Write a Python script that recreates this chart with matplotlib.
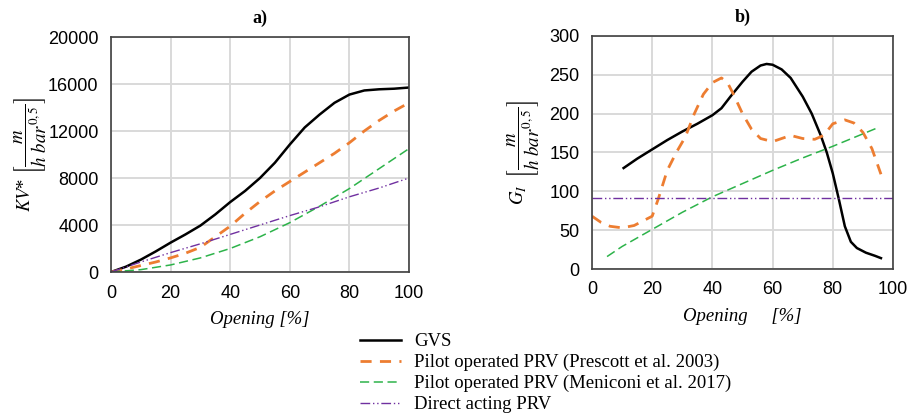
import matplotlib
matplotlib.use('Agg')
import matplotlib.pyplot as plt

plt.rcParams['font.family'] = ['Liberation Sans', 'DejaVu Sans']
plt.rcParams['mathtext.fontset'] = 'stix'

# ---- panel a) KV* vs opening
gvs_x = [0, 5, 10, 15, 20, 25, 30, 35, 40, 45, 50, 55, 60, 65, 70, 75, 80, 85, 90, 95, 100]
gvs_kv = [0, 450, 1050, 1750, 2500, 3200, 3950, 4900, 5950, 6900, 8000, 9300, 10850, 12300, 13400, 14400, 15100, 15450, 15550, 15600, 15700]

pres_x = [0, 5, 10, 15, 20, 25, 30, 35, 40, 45, 50, 55, 60, 65, 70, 75, 80, 85, 90, 95, 100]
pres_kv = [0, 250, 550, 850, 1200, 1600, 2100, 3000, 3900, 5000, 6000, 6900, 7700, 8500, 9300, 10100, 11000, 12000, 12900, 13700, 14400]

men_x = [0, 10, 20, 30, 40, 50, 60, 70, 80, 90, 100]
men_kv = [0, 200, 600, 1200, 2000, 3000, 4200, 5600, 7100, 8800, 10500]

dir_x = [0, 10, 20, 30, 40, 50, 60, 70, 80, 90, 100]
dir_kv = [0, 850, 1650, 2400, 3200, 4000, 4800, 5550, 6400, 7150, 8000]

# ---- panel b) G_I vs opening
gvs_gx = [10.5, 15, 20, 25, 30, 35, 40, 43, 46, 50, 53, 56, 58, 60, 63, 66, 70, 73, 76, 78, 80, 82, 84, 86, 88, 91, 94, 96]
gvs_g = [130, 142, 154, 166, 177, 187, 198, 207, 222, 241, 254, 262, 264, 263, 257, 246, 222, 200, 172, 150, 123, 90, 55, 35, 27, 21, 17, 14]

pres_gx = [0, 3, 6, 10, 14, 18, 20, 22, 25, 28, 31, 34, 37, 40, 43, 45, 47, 50, 53, 56, 60, 63, 66, 70, 74, 77, 80, 84, 87, 90, 93, 96]
pres_g = [68, 60, 55, 53, 56, 64, 68, 90, 127, 150, 170, 200, 225, 240, 246, 240, 225, 200, 180, 168, 164, 168, 172, 168, 167, 172, 187, 192, 188, 176, 155, 122]

men_gx = [5, 10, 20, 30, 40, 50, 60, 70, 80, 95]
men_g = [16, 29, 51, 73, 93, 110, 127, 143, 158, 182]

dir_gx = [0, 100]
dir_g = [92, 92]

orange = '#ED7D31'
green = '#2DB34A'
purple = '#7030A0'

fig = plt.figure(figsize=(9.13, 4.19), dpi=100)
ax1 = fig.add_axes([111/913, 1 - 272/419, 298/913, 235/419])
ax2 = fig.add_axes([592/913, 1 - 269/419, 301/913, 233/419])

def style(ax):
    ax.grid(True, color='#d9d9d9', linewidth=1.4)
    ax.set_axisbelow(True)
    for s in ax.spines.values():
        s.set_color('#404040')
        s.set_linewidth(1.2)
    ax.tick_params(length=0, labelsize=13, pad=9)

l1, = ax1.plot(gvs_x, gvs_kv, color='black', lw=1.8, label='GVS')
l2, = ax1.plot(pres_x, pres_kv, color=orange, lw=2, dashes=(4, 3),
               label='Pilot operated PRV (Prescott et al. 2003)')
l3, = ax1.plot(men_x, men_kv, color=green, lw=1.1, dashes=(6, 3),
               label='Pilot operated PRV (Meniconi et al. 2017)')
l4, = ax1.plot(dir_x, dir_kv, color=purple, lw=1.0, dashes=(7, 2, 1, 2, 1, 2),
               label='Direct acting PRV')
ax1.set_xlim(0, 100)
ax1.set_ylim(0, 20000)
ax1.set_xticks([0, 20, 40, 60, 80, 100])
ax1.set_yticks([0, 4000, 8000, 12000, 16000, 20000])
style(ax1)
ax1.set_title('a)', fontfamily='Liberation Serif', fontweight='bold', fontsize=13, pad=10)
ax1.set_xlabel('Opening [%]', fontfamily='Liberation Serif', style='italic', fontsize=13.5, labelpad=7)
ax1.set_ylabel(r'$KV$* $\left[\dfrac{m}{h\ bar^{0,5}}\right]$', fontfamily='Liberation Serif',
               fontsize=13.5, labelpad=0)

ax2.plot(gvs_gx, gvs_g, color='black', lw=1.8)
ax2.plot(pres_gx, pres_g, color=orange, lw=2, dashes=(4, 3))
ax2.plot(men_gx, men_g, color=green, lw=1.1, dashes=(6, 3))
ax2.plot(dir_gx, dir_g, color=purple, lw=1.0, dashes=(7, 2, 1, 2, 1, 2))
ax2.set_xlim(0, 100)
ax2.set_ylim(0, 300)
ax2.set_xticks([0, 20, 40, 60, 80, 100])
ax2.set_yticks([0, 50, 100, 150, 200, 250, 300])
style(ax2)
ax2.set_title('b)', fontfamily='Liberation Serif', fontweight='bold', fontsize=13, pad=10)
ax2.set_xlabel('Opening     [%]', fontfamily='Liberation Serif', style='italic', fontsize=13.5, labelpad=7)
ax2.set_ylabel(r'$G_I\ \ \left[\dfrac{m}{h\ bar^{0,5}}\right]$', fontsize=13.5, labelpad=6)

fig.legend(handles=[l1, l2, l3, l4], loc='upper left', bbox_to_anchor=(360/913, 1 - 333/419),
           frameon=False, prop={'family': 'Liberation Serif', 'size': 13.5},
           handlelength=2.2, handletextpad=0.7, labelspacing=0.2, borderpad=0, borderaxespad=0)

fig.savefig('out.png', dpi=100)
